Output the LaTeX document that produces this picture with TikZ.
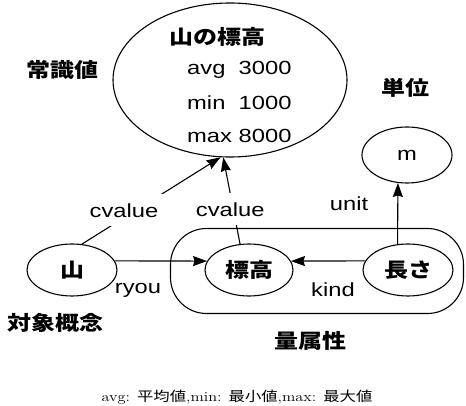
\documentclass[tikz,border=0pt]{standalone}
\usepackage{fontspec}
\setmainfont{Liberation Sans}[FakeStretch=1.25]
\newfontfamily\jp{Noto Sans CJK JP}[FakeStretch=1.2]
\newfontfamily\jpr{Noto Sans CJK JP}[FakeStretch=1.2]
\newfontfamily\capfont{Latin Modern Roman}[FakeStretch=1.2]
\usetikzlibrary{shapes.geometric,arrows.meta}
\begin{document}
\begin{tikzpicture}[x=1pt,y=-1pt,
  lbl/.style={font=\fontsize{19}{21}\selectfont, inner sep=1pt},
  jlbl/.style={font=\fontsize{20}{22}\selectfont\jp\bfseries, inner sep=1pt},
  oval/.style={draw, ellipse, line width=1.1pt, inner sep=0pt},
  arr/.style={line width=1.1pt, -{Stealth[length=14pt,width=10pt,inset=1.5pt]}},
  cut/.style={lbl, fill=white, inner xsep=8pt, inner ysep=9pt}]
\useasboundingbox (0,0) rectangle (466,406);
% big ellipse
\node[oval, minimum width=234pt, minimum height=154pt] (big) at (230,80) {};
\node[jlbl, anchor=base] (t0) at (217,45) {山の標高};
\node[lbl, anchor=base west] (t1) at (186,75) {avg~~3000};
\node[lbl, anchor=base west] (t2) at (186,110) {min~~1000};
\node[lbl, anchor=base west] (t3) at (186,143) {max 8000};
% labels
\node[jlbl] (joshiki) at (62,70) {常識値};
\node[jlbl] (tani) at (405,88) {単位};
\node[jlbl] (taisho) at (56,323) {対象概念};
\node[jlbl] (ryozoku) at (310,341) {量属性};
% group box
\node[draw, line width=1.1pt, rounded corners=36pt, minimum width=293pt, minimum height=85pt] (grp) at (317,271) {};
% nodes
\node[oval, minimum width=90pt, minimum height=52pt, font=\fontsize{20}{22}\selectfont\jp\bfseries] (yama) at (72,270) {山};
\node[oval, minimum width=88pt, minimum height=52pt, font=\fontsize{20}{22}\selectfont\jp\bfseries] (hyoko) at (249,270) {標高};
\node[oval, minimum width=90pt, minimum height=52pt, font=\fontsize{20}{22}\selectfont\jp\bfseries] (naga) at (408,270) {長さ};
\node[oval, minimum width=90pt, minimum height=56pt, font=\fontsize{19}{21}\selectfont] (m) at (407,155) {m};
% connectors
\draw[arr] (yama.69) -- node[cut, pos=0.39, xshift=-12pt] (cv1) {cvalue} (big.-97);
\draw[arr] (hyoko.109) -- node[cut, pos=0.4, xshift=-3pt] (cv2) {cvalue} (big.-95);
\draw[arr] (yama.12) -- (hyoko.168);
\node[lbl] (ryou) at (138,290) {ryou};
\draw[arr] (naga.168) -- (hyoko.12);
\node[lbl] (kind) at (333,290) {kind};
\draw[arr] (naga.112) -- (m.-108);
\node[lbl] (unit) at (349,204) {unit};
% caption
\node[font=\fontsize{13.6}{15}\selectfont] (cap) at (237,397) {\capfont avg: {\jpr 平均値},min: {\jpr 最小値},max: {\jpr 最大値}};
\end{tikzpicture}
\end{document}
